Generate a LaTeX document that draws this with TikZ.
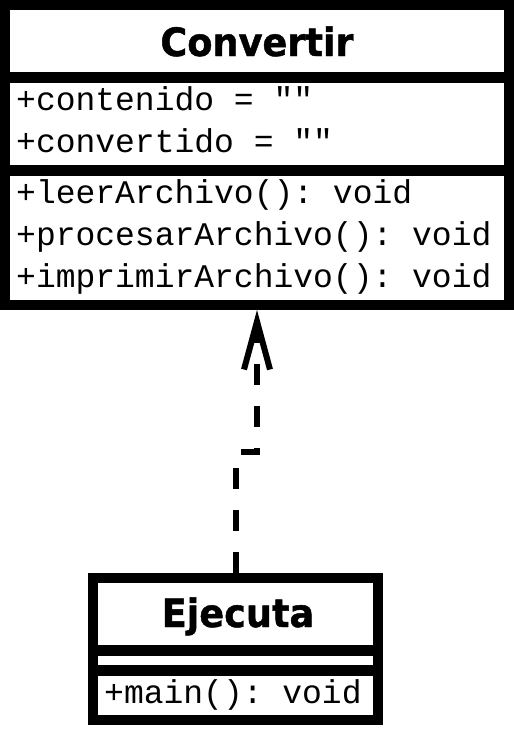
\documentclass[tikz,border=0pt]{standalone}
\usepackage{fontspec}
\usepackage{graphicx}
\setmonofont{Liberation Mono}
\newfontfamily\titlefont{DejaVu Sans}[BoldFeatures={FakeBold=1.2}]
\usetikzlibrary{arrows.meta}
\newcommand{\classtitle}[1]{\scalebox{0.94}[1]{#1}}
\tikzset{
  classbox/.style={draw, line width=10pt, fill=white, inner sep=0pt},
  sepline/.style={line width=11pt},
  classname/.style={font=\titlefont\bfseries\fontsize{39}{46}\selectfont, anchor=base, inner sep=0pt},
  member/.style={font=\ttfamily\fontsize{33}{42}\selectfont, anchor=base west, inner sep=0pt},
  dep/.style={line width=6pt, dash pattern=on 21pt off 21pt, -{Straight Barb[length=48pt,width=26pt]}}
}
\begin{document}
\begin{tikzpicture}[x=1pt, y=-1pt]
            \useasboundingbox (0,0) rectangle (514,729);
            % Convertir
            \node[classbox, minimum width=504pt, minimum height=300pt] (convertir) at (257,155) {};
            \draw[sepline] (convertir.west |- 0,77.5) -- (convertir.east |- 0,77.5) (convertir.west |- 0,170.5) -- (convertir.east |- 0,170.5);
            \node[classname] (convertirname) at (257,56) {\classtitle{Convertir}};
            \foreach \i/\y/\t in {1/110/{+contenido = ""},2/152/{+convertido = ""},3/203/{+leerArchivo(): void},4/245/{+procesarArchivo(): void},5/287/{+imprimirArchivo(): void}}
            \node[member] (convertir\i) at (16,\y) {\t};
            % Ejecuta
            \node[classbox, minimum width=285pt, minimum height=142pt] (ejecuta) at (235.5,649) {};
            \draw[sepline] (ejecuta.west |- 0,650.5) -- (ejecuta.east |- 0,650.5) (ejecuta.west |- 0,670.5) -- (ejecuta.east |- 0,670.5);
            \node[classname] (ejecutaname) at (238,627) {\classtitle{Ejecuta}};
            \node[member] (ejecuta1) at (104,703) {+main(): void};
            % dependencia
            \coordinate (jog) at (257,452);
            \draw[dep] (ejecuta.north) |- (jog) -- (jog |- convertir.south);
        \end{tikzpicture}
\end{document}
